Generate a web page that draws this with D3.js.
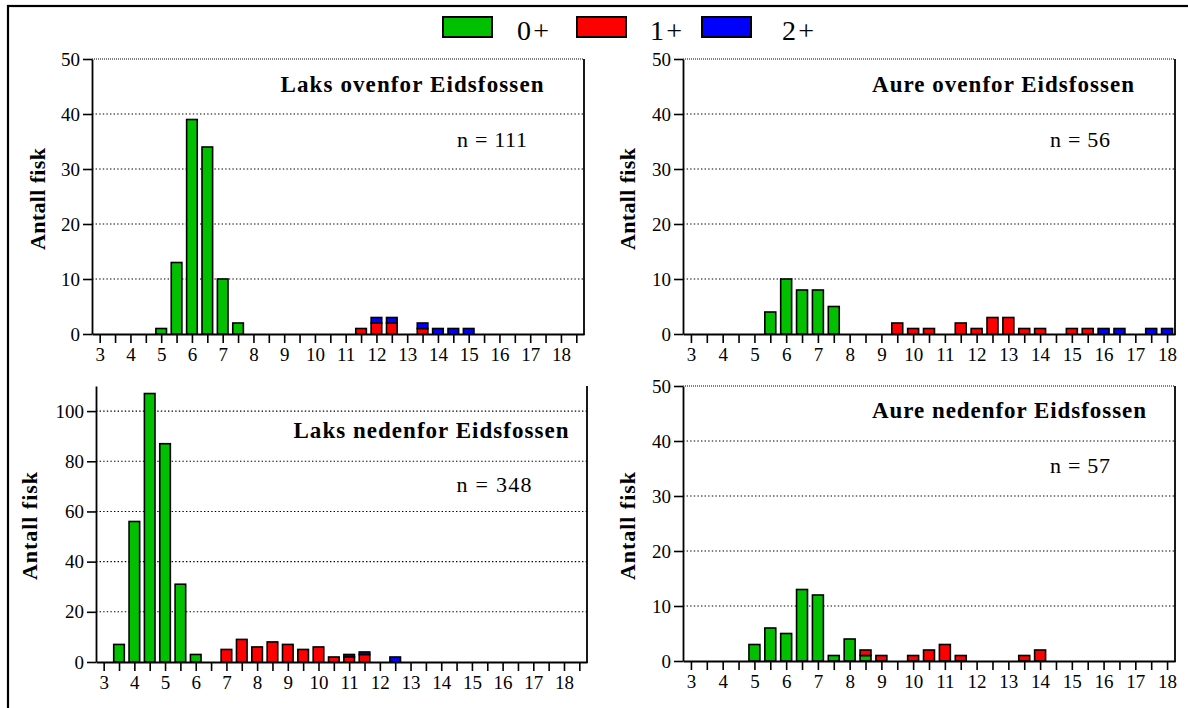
<!DOCTYPE html>
<html>
<head>
<meta charset="utf-8">
<script src="https://cdn.jsdelivr.net/npm/d3@7"></script>
<style>
  html, body { margin: 0; padding: 0; background: #fff; }
  svg { display: block; }
  svg text { font-family: "Liberation Serif", Tinos, "Times New Roman", Times, serif !important; fill: #000; }
</style>
</head>
<body>
<svg id="chart" width="1188" height="708"></svg>
<script>
// ---------- DATA ----------
const lengthClasses = [3, 3.5, 4, 4.5, 5, 5.5, 6, 6.5, 7, 7.5, 8, 8.5, 9, 9.5, 10, 10.5,
  11, 11.5, 12, 12.5, 13, 13.5, 14, 14.5, 15, 15.5, 16, 16.5, 17, 17.5, 18];
const xTickLabels = [3, 4, 5, 6, 7, 8, 9, 10, 11, 12, 13, 14, 15, 16, 17, 18];
const seriesNames = ["0+", "1+", "2+"];
const seriesColors = ["#00c000", "#ff0000", "#0000ff"];

const panelTitles = ["Laks ovenfor Eidsfossen", "Aure ovenfor Eidsfossen",
  "Laks nedenfor Eidsfossen", "Aure nedenfor Eidsfossen"];
const panelN = ["n = 111", "n = 56", "n = 348", "n = 57"];
const yAxisTitle = "Antall fisk";
const yTicksSmall = [0, 10, 20, 30, 40, 50];
const yTicksLarge = [0, 20, 40, 60, 80, 100];

// Laks ovenfor Eidsfossen
const laksOven0 = [0,0,0,0,1,13,39,34,10,2,0,0,0,0,0,0,0,0,0,0,0,0,0,0,0,0,0,0,0,0,0];
const laksOven1 = [0,0,0,0,0,0,0,0,0,0,0,0,0,0,0,0,0,1,2,2,0,1,0,0,0,0,0,0,0,0,0];
const laksOven2 = [0,0,0,0,0,0,0,0,0,0,0,0,0,0,0,0,0,0,1,1,0,1,1,1,1,0,0,0,0,0,0];
// Aure ovenfor Eidsfossen
const aureOven0 = [0,0,0,0,0,4,10,8,8,5,0,0,0,0,0,0,0,0,0,0,0,0,0,0,0,0,0,0,0,0,0];
const aureOven1 = [0,0,0,0,0,0,0,0,0,0,0,0,0,2,1,1,0,2,1,3,3,1,1,0,1,1,0,0,0,0,0];
const aureOven2 = [0,0,0,0,0,0,0,0,0,0,0,0,0,0,0,0,0,0,0,0,0,0,0,0,0,0,1,1,0,1,1];
// Laks nedenfor Eidsfossen
const laksNed0 = [0,7,56,107,87,31,3,0,0,0,0,0,0,0,0,0,0,0,0,0,0,0,0,0,0,0,0,0,0,0,0];
const laksNed1 = [0,0,0,0,0,0,0,0,5,9,6,8,7,5,6,2,2,3,0,0,0,0,0,0,0,0,0,0,0,0,0];
const laksNed2 = [0,0,0,0,0,0,0,0,0,0,0,0,0,0,0,0,1,1,0,2,0,0,0,0,0,0,0,0,0,0,0];
// Aure nedenfor Eidsfossen
const aureNed0 = [0,0,0,0,3,6,5,13,12,1,4,1,0,0,0,0,0,0,0,0,0,0,0,0,0,0,0,0,0,0,0];
const aureNed1 = [0,0,0,0,0,0,0,0,0,0,0,1,1,0,1,2,3,1,0,0,0,1,2,0,0,0,0,0,0,0,0];
const aureNed2 = [0,0,0,0,0,0,0,0,0,0,0,0,0,0,0,0,0,0,0,0,0,0,0,0,0,0,0,0,0,0,0];

// ---------- LAYOUT ----------
const panels = [
  { series: [laksOven0, laksOven1, laksOven2], x0: 92, x1: 584, y0: 59, y1: 334, xDom: [2.75, 18.75], yMax: 50, yTicks: yTicksSmall,
    title: { x: 412, y: 92, w: 263 }, n: { x: 492, y: 147, w: 70 }, yt: { x: 45, y: 199, w: 102 } },
  { series: [aureOven0, aureOven1, aureOven2], x0: 683, x1: 1175, y0: 59, y1: 334, xDom: [2.75, 18.25], yMax: 50, yTicks: yTicksSmall,
    title: { x: 1003, y: 92, w: 262 }, n: { x: 1080, y: 147, w: 60 }, yt: { x: 635, y: 199, w: 102 } },
  { series: [laksNed0, laksNed1, laksNed2], x0: 96, x1: 587, y0: 386, y1: 662, xDom: [2.75, 18.75], yMax: 110, yTicks: yTicksLarge,
    title: { x: 431, y: 438, w: 275 }, n: { x: 494, y: 492, w: 75 }, yt: { x: 37, y: 526, w: 108 } },
  { series: [aureNed0, aureNed1, aureNed2], x0: 683, x1: 1175, y0: 386, y1: 661, xDom: [2.75, 18.25], yMax: 50, yTicks: yTicksSmall,
    title: { x: 1009, y: 418, w: 274 }, n: { x: 1080, y: 473, w: 60 }, yt: { x: 635, y: 526, w: 108 } }
];

const svg = d3.select("#chart");

// outer frame (only top & left visible)
svg.append("rect").attr("x", 8).attr("y", 6).attr("width", 1200).attr("height", 720)
  .attr("fill", "none").attr("stroke", "#000").attr("stroke-width", 2.2);

// legend
const legendItems = [
  { rx: 443, tx: 517 },
  { rx: 577, tx: 650 },
  { rx: 702, tx: 782 }
];
legendItems.forEach((li, i) => {
  svg.append("rect").attr("x", li.rx).attr("y", 17).attr("width", 49).attr("height", 20)
    .attr("fill", seriesColors[i]).attr("stroke", "#000").attr("stroke-width", 2);
  svg.append("text").attr("x", li.tx).attr("y", 40).attr("font-size", 28)
    .attr("textLength", 32).attr("lengthAdjust", "spacing").text(seriesNames[i]);
});

panels.forEach((p, pi) => {
  const g = svg.append("g");
  const x = d3.scaleLinear().domain(p.xDom).range([p.x0, p.x1]);
  const y = d3.scaleLinear().domain([0, p.yMax]).range([p.y1, p.y0]);
  const pxPerUnit = (p.x1 - p.x0) / (p.xDom[1] - p.xDom[0]);
  const bw = 0.345 * pxPerUnit;

  // gridlines
  p.yTicks.filter(t => t > 0).forEach(t => {
    g.append("line").attr("x1", p.x0).attr("x2", p.x1).attr("y1", y(t)).attr("y2", y(t))
      .attr("stroke", "#000").attr("stroke-width", 1.1)
      .attr("stroke-dasharray", t === p.yMax ? "1,1" : "1.4,2.2");
  });

  // stacked bars
  const rows = lengthClasses.map((L, i) => {
    const o = { len: L };
    seriesNames.forEach((s, k) => o[s] = p.series[k][i]);
    return o;
  });
  const stack = d3.stack().keys(seriesNames)(rows);
  stack.forEach((layer, k) => {
    g.selectAll(null).data(layer.filter(d => d[1] - d[0] > 0)).enter().append("rect")
      .attr("x", d => x(d.data.len) - bw / 2)
      .attr("width", bw)
      .attr("y", d => y(d[1]))
      .attr("height", d => y(d[0]) - y(d[1]))
      .attr("fill", seriesColors[k])
      .attr("stroke", "#000").attr("stroke-width", 1.6);
  });

  // y axis
  const yAxis = d3.axisLeft(y).tickValues(p.yTicks).tickSize(9).tickPadding(3).tickSizeOuter(0);
  const ya = g.append("g").attr("transform", `translate(${p.x0},0)`).call(yAxis)
    .attr("font-family", null);
  ya.select(".domain").attr("stroke-width", 1.8);
  ya.selectAll(".tick line").attr("stroke-width", 1.6);
  ya.selectAll(".tick text").attr("font-size", 19).attr("fill", "#000");

  // x axis
  const xTickVals = lengthClasses.concat(p.xDom[1] > 18.5 ? [18.5] : []);
  const xAxis = d3.axisBottom(x).tickValues(xTickVals).tickSize(9).tickPadding(5).tickSizeOuter(0)
    .tickFormat(d => xTickLabels.includes(d) ? d : "");
  const xa = g.append("g").attr("transform", `translate(0,${p.y1})`).call(xAxis)
    .attr("font-family", null);
  xa.select(".domain").attr("stroke-width", 1.8);
  xa.selectAll(".tick line").attr("stroke-width", 1.6);
  xa.selectAll(".tick text").attr("font-size", 19).attr("fill", "#000");

  // right border
  g.append("line").attr("x1", p.x1).attr("x2", p.x1).attr("y1", p.y0).attr("y2", p.y1 + 0.9)
    .attr("stroke", "#000").attr("stroke-width", 1.8);

  // title
  g.append("text").attr("x", p.title.x).attr("y", p.title.y).attr("text-anchor", "middle")
    .attr("font-size", 23).attr("font-weight", "bold")
    .attr("textLength", p.title.w).attr("lengthAdjust", "spacing").text(panelTitles[pi]);
  // n label
  g.append("text").attr("x", p.n.x).attr("y", p.n.y).attr("text-anchor", "middle")
    .attr("font-size", 22)
    .attr("textLength", p.n.w).attr("lengthAdjust", "spacing").text(panelN[pi]);
  // y axis title
  g.append("text").attr("transform", `translate(${p.yt.x},${p.yt.y}) rotate(-90)`)
    .attr("text-anchor", "middle").attr("font-size", 22).attr("font-weight", "bold")
    .attr("textLength", p.yt.w).attr("lengthAdjust", "spacing").text(yAxisTitle);
});
</script>
</body>
</html>
